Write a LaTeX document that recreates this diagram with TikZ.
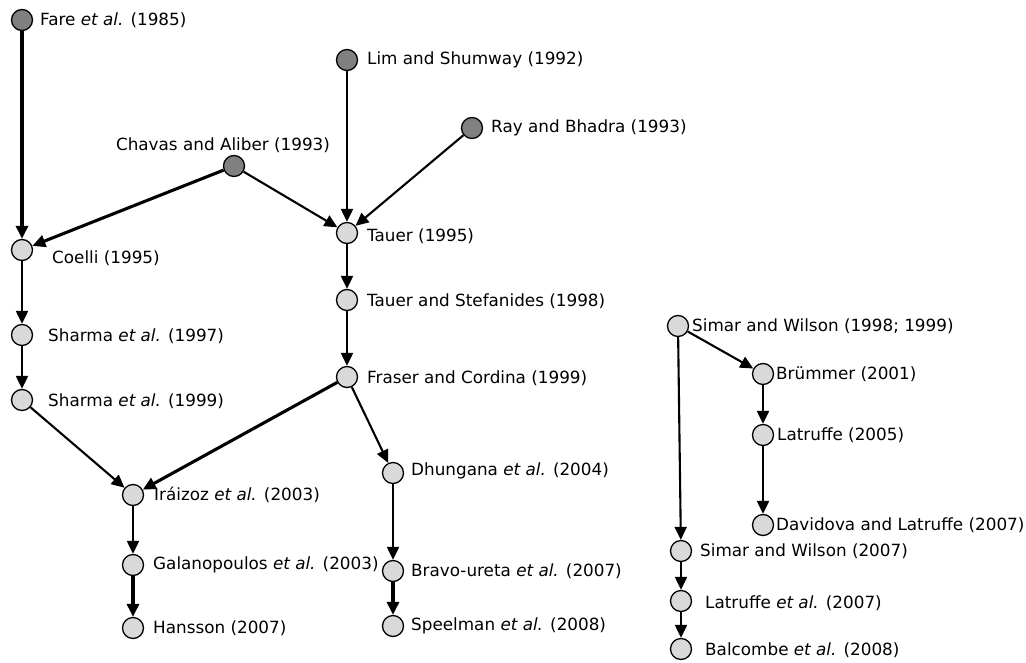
\documentclass[tikz,border=0pt]{standalone}
\usepackage{fontspec}
\setmainfont{DejaVu Sans}
\usetikzlibrary{arrows.meta}
\definecolor{seedgray}{RGB}{128,128,128}
\definecolor{citegray}{RGB}{217,217,217}
\tikzset{
  paper/.style={circle,draw=black,line width=1.3pt,minimum size=21pt,inner sep=0pt},
  seed/.style={paper,fill=seedgray},
  later/.style={paper,fill=citegray},
  cite/.style={anchor=west,inner sep=0pt,text=black,font=\fontsize{16.8}{19}\selectfont},
  link/.style={-{Triangle[length=13pt,width=12pt]},line width=2.1pt},
  biglink/.style={link,line width=3.1pt}
}
\newcommand{\etal}{\textit{et al.}}
\begin{document}
\begin{tikzpicture}[x=1pt,y=-1pt]
\useasboundingbox (0,0) rectangle (1026,662);

% papers (circles):
\node[seed]  (fare)    at (22,20)   {};
\node[seed]  (lim)     at (347,60)  {};
\node[seed]  (ray)     at (472,128) {};
\node[seed]  (chavas)  at (234,166) {};
\node[later] (coelli)  at (22,250)  {};
\node[later] (tauer)   at (347,233) {};
\node[later] (tauerst) at (347,300) {};
\node[later] (fraser)  at (347,377) {};
\node[later] (sharmaA) at (22,335)  {};
\node[later] (sharmaB) at (22,400)  {};
\node[later] (iraizoz) at (133,495) {};
\node[later] (galano)  at (133,565) {};
\node[later] (hansson) at (133,628) {};
\node[later] (dhung)   at (393,473) {};
\node[later] (bravo)   at (393,571) {};
\node[later] (speel)   at (393,626) {};
\node[later] (swA)     at (678,326) {};
\node[later] (brum)    at (763,374) {};
\node[later] (latA)    at (763,435) {};
\node[later] (davi)    at (763,525) {};
\node[later] (swB)     at (681,551) {};
\node[later] (latB)    at (681,601) {};
\node[later] (balc)    at (681,649) {};

% labels:
\node[cite] (tfare)    at (40,20)   {Fare \etal{} (1985)};
\node[cite] (tlim)     at (367,60)  {Lim and Shumway (1992)};
\node[cite] (tray)     at (491,128) {Ray and Bhadra (1993)};
\node[cite,anchor=center] (tchavas) at (223,145) {Chavas and Aliber (1993)};
\node[cite] (tcoelli)  at (52,258)  {Coelli (1995)};
\node[cite] (ttauer)   at (367,236) {Tauer (1995)};
\node[cite] (ttauerst) at (367,301) {Tauer and Stefanides (1998)};
\node[cite] (tfraser)  at (367,378) {Fraser and Cordina (1999)};
\node[cite] (tsharmaA) at (48,336)  {Sharma \etal{} (1997)};
\node[cite] (tsharmaB) at (48,401)  {Sharma \etal{} (1999)};
\node[cite] (tiraizoz) at (154,495) {Iráizoz \etal{} (2003)};
\node[cite] (tgalano)  at (153,565) {Galanopoulos \etal{} (2003)};
\node[cite] (thansson) at (153,628) {Hansson (2007)};
\node[cite] (tdhung)   at (411,471) {Dhungana \etal{} (2004)};
\node[cite] (tbravo)   at (411,571) {Bravo-ureta \etal{} (2007)};
\node[cite] (tspeel)   at (411,626) {Speelman \etal{} (2008)};
\node[cite] (tswA)     at (692,326) {Simar and Wilson (1998; 1999)};
\node[cite] (tbrum)    at (776,374) {Brümmer (2001)};
\node[cite] (tlatA)    at (777,435) {Latruffe (2005)};
\node[cite] (tdavi)    at (776,525) {Davidova and Latruffe (2007)};
\node[cite] (tswB)     at (700,551) {Simar and Wilson (2007)};
\node[cite] (tlatB)    at (705,603) {Latruffe \etal{} (2007)};
\node[cite] (tbalc)    at (705,650) {Balcombe \etal{} (2008)};

% citations (arrows):
\draw[biglink] (fare) -- (coelli);
\draw[biglink] (chavas) -- (coelli);
\draw[link] (chavas) -- (tauer);
\draw[link] (lim) -- (tauer);
\draw[link] (ray) -- (tauer);
\draw[link] (tauer) -- (tauerst);
\draw[link] (tauerst) -- (fraser);
\draw[link] (coelli) -- (sharmaA);
\draw[link] (sharmaA) -- (sharmaB);
\draw[link] (sharmaB) -- (iraizoz);
\draw[biglink] (fraser) -- (iraizoz);
\draw[link] (fraser) -- (dhung);
\draw[link] (iraizoz) -- (galano);
\draw[biglink] (galano) -- (hansson);
\draw[link] (dhung) -- (bravo);
\draw[biglink] (bravo) -- (speel);
\draw[link] (swA) -- (brum);
\draw[link] (brum) -- (latA);
\draw[link] (latA) -- (davi);
\draw[link] (swA) -- (swB);
\draw[link] (swB) -- (latB);
\draw[link] (latB) -- (balc);

\end{tikzpicture}
\end{document}
